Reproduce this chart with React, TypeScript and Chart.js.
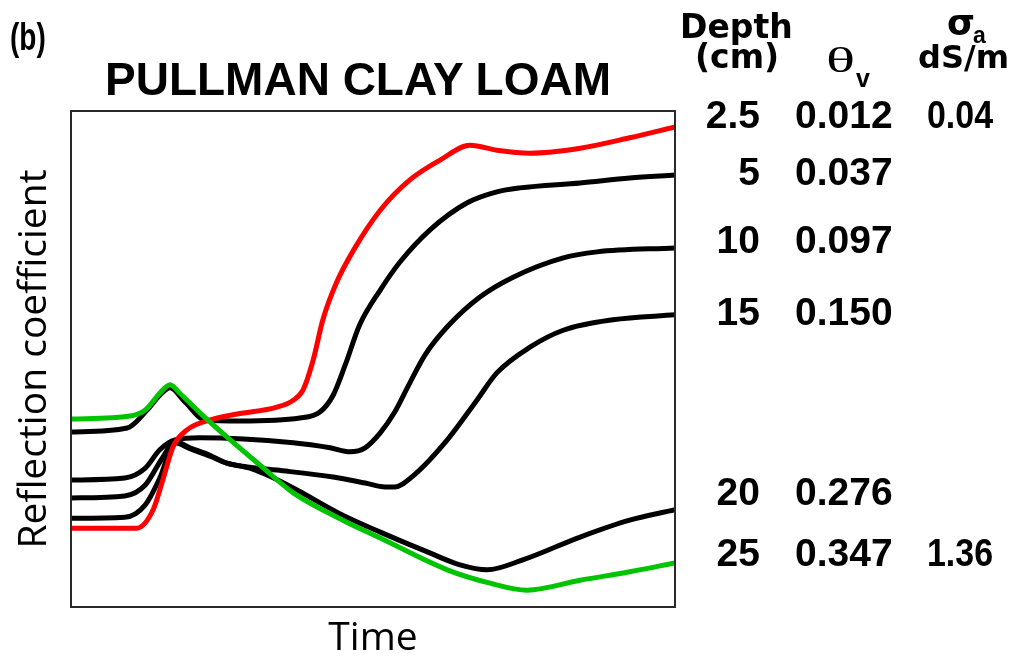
import React, { useEffect, useRef } from "react";
import { Chart, registerables } from "chart.js";

Chart.register(...registerables);

// ---- Data (time in arbitrary units 0–100, reflection coefficient relative 0–1) ----
const time_2_5 = [0, 10.9, 13.6, 15.2, 16.9, 19.2, 23.0, 27.5, 34.1, 36.8, 38.4, 40.1, 41.7, 44.0, 47.0, 51.2, 56.1, 61.1, 66.1, 70.5, 76.0, 84.3, 92.5, 100];
const refl_2_5 = [0.159, 0.159, 0.196, 0.256, 0.323, 0.357, 0.377, 0.389, 0.403, 0.417, 0.437, 0.498, 0.579, 0.655, 0.724, 0.800, 0.861, 0.901, 0.931, 0.921, 0.915, 0.925, 0.946, 0.968];

const time_5 = [0, 9.3, 12.6, 14.7, 16.4, 18.9, 22.2, 28.0, 37.9, 41.2, 43.4, 45.4, 47.8, 51.2, 54.5, 59.4, 65.6, 70.5, 74.3, 84.3, 92.5, 100];
const refl_5 = [0.353, 0.361, 0.397, 0.427, 0.442, 0.413, 0.377, 0.375, 0.381, 0.393, 0.427, 0.488, 0.569, 0.639, 0.696, 0.760, 0.815, 0.837, 0.845, 0.855, 0.865, 0.871];

const time_10 = [0, 8.9, 12.3, 14.7, 17.2, 21.4, 36.8, 42.9, 46.2, 48.7, 51.2, 53.6, 56.1, 58.6, 62.3, 67.7, 73.2, 81.5, 87.1, 100];
const refl_10 = [0.256, 0.260, 0.280, 0.317, 0.337, 0.341, 0.331, 0.321, 0.313, 0.321, 0.351, 0.393, 0.452, 0.508, 0.565, 0.625, 0.665, 0.704, 0.716, 0.724];

const time_15 = [0, 8.9, 12.3, 15.1, 17.2, 19.7, 23.0, 25.8, 29.6, 34.1, 43.4, 48.7, 52.0, 53.6, 56.6, 62.3, 67.2, 70.5, 76.0, 81.5, 89.7, 100];
const refl_15 = [0.220, 0.224, 0.246, 0.300, 0.333, 0.321, 0.306, 0.290, 0.282, 0.276, 0.262, 0.250, 0.242, 0.242, 0.264, 0.337, 0.417, 0.472, 0.524, 0.558, 0.579, 0.589];

const time_20 = [0, 8.9, 12.3, 14.7, 17.2, 19.7, 23.0, 25.8, 29.6, 32.1, 36.8, 45.0, 51.2, 59.4, 64.4, 68.9, 74.8, 84.3, 92.5, 100];
const refl_20 = [0.179, 0.181, 0.206, 0.260, 0.331, 0.319, 0.304, 0.290, 0.280, 0.268, 0.240, 0.185, 0.151, 0.109, 0.085, 0.075, 0.095, 0.141, 0.175, 0.196];

const time_25 = [0, 9.8, 12.3, 14.7, 16.4, 18.0, 21.4, 25.8, 31.3, 36.8, 45.0, 51.2, 62.3, 69.4, 75.5, 84.3, 92.5, 100];
const refl_25 = [0.379, 0.385, 0.397, 0.431, 0.448, 0.431, 0.391, 0.343, 0.286, 0.230, 0.175, 0.139, 0.075, 0.048, 0.034, 0.054, 0.071, 0.089];

const depthLabels = ["2.5", "5", "10", "15", "20", "25"];
const thetaLabels = ["0.012", "0.037", "0.097", "0.150", "0.276", "0.347"];
const sigmaLabels = ["0.04", "", "", "", "", "1.36"];
const seriesTimes = [time_2_5, time_5, time_10, time_15, time_20, time_25];
const seriesRefl = [refl_2_5, refl_5, refl_10, refl_15, refl_20, refl_25];

const chartTitle = "PULLMAN CLAY LOAM";
const panelLabel = "(b)";
const xAxisTitle = "Time";
const yAxisTitle = "Reflection coefficient";

// ---- Styles / layout ----
const lineColors = ["#ff0000", "#000000", "#000000", "#000000", "#000000", "#00c400"];
const drawOrder = [1, 2, 2, 2, 2, 0];
const W = 1015;
const H = 657;
const rowBaselines = [128, 185, 253, 325, 505, 566];

const boxPlugin = {
  id: "areaBox",
  afterDraw(chart: any) {
    const { ctx, chartArea } = chart;
    ctx.save();
    ctx.strokeStyle = "#2a2a2a";
    ctx.lineWidth = 2;
    ctx.strokeRect(chartArea.left, chartArea.top, chartArea.right - chartArea.left, chartArea.bottom - chartArea.top);
    ctx.restore();
  },
};

export default function App() {
  const ref = useRef<HTMLCanvasElement | null>(null);

  useEffect(() => {
    if (!ref.current) return;
    const datasets = seriesTimes.map((ts, i) => ({
      label: depthLabels[i] + " cm",
      data: ts.map((t, j) => ({ x: t, y: seriesRefl[i][j] })),
      borderColor: lineColors[i],
      backgroundColor: lineColors[i],
      borderWidth: 5,
      pointRadius: 0,
      cubicInterpolationMode: "monotone" as const,
      borderCapStyle: "round" as const,
      borderJoinStyle: "round" as const,
      order: drawOrder[i],
    }));
    const chart = new Chart(ref.current, {
      type: "line",
      data: { datasets },
      options: {
        animation: false,
        responsive: false,
        layout: { padding: { left: 0, top: 111, right: W - 675, bottom: 0 } },
        plugins: { legend: { display: false }, tooltip: { enabled: false } },
        scales: {
          x: {
            type: "linear",
            min: 0,
            max: 100,
            grid: { display: false },
            border: { display: false },
            ticks: { display: false },
            title: {
              display: true,
              text: xAxisTitle,
              color: "#000",
              font: { family: "'Open Sans'", size: 39, lineHeight: 0.9 },
              padding: { top: 0, bottom: 1 },
            },
            afterFit: (s: any) => {
              s.height = 50;
            },
          },
          y: {
            type: "linear",
            min: 0,
            max: 1,
            grid: { display: false },
            border: { display: false },
            ticks: { display: false },
            title: {
              display: true,
              text: yAxisTitle,
              color: "#000",
              font: { family: "'Open Sans'", size: 39, lineHeight: 1 },
              padding: { top: 15, bottom: 0 },
            },
            afterFit: (s: any) => {
              s.width = 71;
            },
          },
        },
      },
      plugins: [boxPlugin],
    });
    return () => chart.destroy();
  }, []);

  const numFont = "'Liberation Sans', Arial, sans-serif";
  const headFont = "'DejaVu Sans', sans-serif";

  return (
    <div style={{ position: "absolute", left: 0, top: 0, width: W, height: H, background: "#fff" }}>
      <canvas ref={ref} width={W} height={H} style={{ position: "absolute", left: 0, top: 0 }} />
      <svg width={W} height={H} style={{ position: "absolute", left: 0, top: 0, pointerEvents: "none" }}>
        <text transform="translate(10,50) scale(0.74,1)" fontFamily={numFont} fontWeight="bold" fontSize={38} fill="#000">
          {panelLabel}
        </text>
        <text x={105} y={95} fontFamily={numFont} fontWeight="bold" fontSize={46} fill="#000">
          {chartTitle}
        </text>
        <text x={680} y={38} fontFamily={headFont} fontWeight="bold" fontSize={33} fill="#000">
          Depth
        </text>
        <text x={695} y={68} fontFamily={headFont} fontWeight="bold" fontSize={33} fill="#000">
          (cm)
        </text>
        <text x={826} y={72} fontFamily="'Liberation Serif', serif" fontSize={36} textLength={29} lengthAdjust="spacingAndGlyphs" fill="#000">
          θ
        </text>
        <text x={856} y={87} fontFamily={numFont} fontWeight="bold" fontSize={25} fill="#000">
          v
        </text>
        <text x={947} y={35} fontFamily={headFont} fontWeight="bold" fontSize={36} fill="#000">
          σ
        </text>
        <text x={973} y={43} fontFamily={numFont} fontWeight="bold" fontSize={23} fill="#000">
          a
        </text>
        <text x={918} y={68} fontFamily={headFont} fontWeight="bold" fontSize={32} fill="#000">
          dS/m
        </text>
        {depthLabels.map((d, i) => (
          <g key={d}>
            <text x={760} y={rowBaselines[i]} textAnchor="end" fontFamily={numFont} fontWeight="bold" fontSize={39} fill="#000">
              {d}
            </text>
            <text x={795} y={rowBaselines[i]} fontFamily={numFont} fontWeight="bold" fontSize={39} fill="#000">
              {thetaLabels[i]}
            </text>
            {sigmaLabels[i] ? (
              <text transform={`translate(927,${rowBaselines[i]}) scale(0.87,1)`} fontFamily={numFont} fontWeight="bold" fontSize={39} fill="#000">
                {sigmaLabels[i]}
              </text>
            ) : null}
          </g>
        ))}
      </svg>
    </div>
  );
}
